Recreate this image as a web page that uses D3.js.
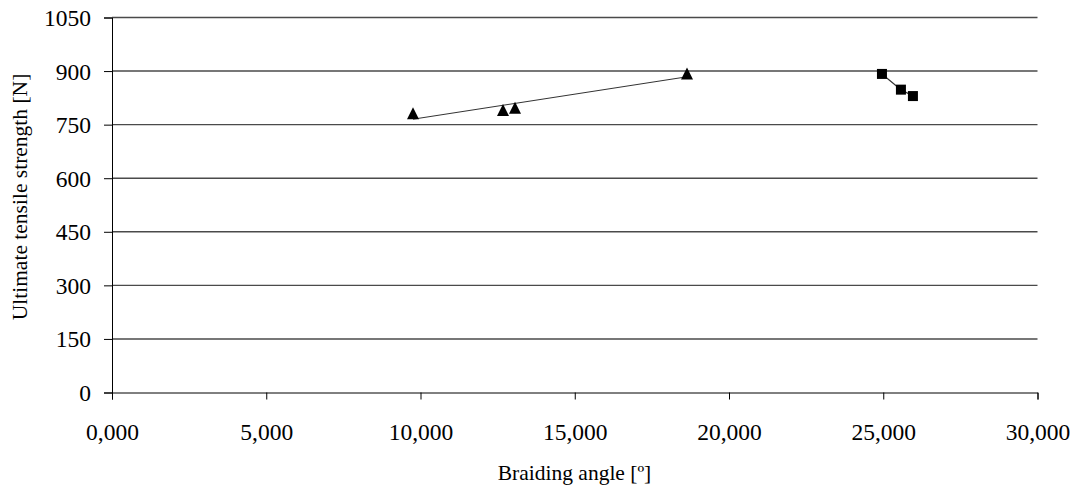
<!DOCTYPE html>
<html><head><meta charset="utf-8">
<script src="https://cdn.jsdelivr.net/npm/d3@7"></script>
<style>
html,body{margin:0;padding:0;background:#fff;}
svg{display:block;font-family:"Liberation Serif","Times New Roman",serif;}
</style></head>
<body><svg id="c" width="1075" height="486"></svg>
<script>
// Data
const triangleX = [9757, 12675, 13063, 18638];
const triangleY = [782, 791, 797, 893];
const squareX = [24958, 25573, 25962];
const squareY = [892, 848, 830];
const xTickValues = [0, 5000, 10000, 15000, 20000, 25000, 30000];
const xTickLabels = ["0,000", "5,000", "10,000", "15,000", "20,000", "25,000", "30,000"];
const yTickValues = [0, 150, 300, 450, 600, 750, 900, 1050];
const yTickLabels = ["0", "150", "300", "450", "600", "750", "900", "1050"];
const xTitle = "Braiding angle [º]";
const yTitle = "Ultimate tensile strength [N]";

const svg = d3.select("#c");
const x = d3.scaleLinear().domain([0, 30000]).range([112, 1037.5]);
const y = d3.scaleLinear().domain([0, 1050]).range([392.5, 17.5]);

// gridlines
svg.append("g").selectAll("line").data(yTickValues.filter(v => v > 0)).join("line")
  .attr("x1", x(0)).attr("x2", x(30000))
  .attr("y1", d => y(d)).attr("y2", d => y(d))
  .attr("stroke", "#4a4a4a").attr("stroke-width", 1.4);

// axes
const xAxis = svg.append("g").attr("transform", `translate(0,${y(0)})`)
  .call(d3.axisBottom(x).tickValues(xTickValues).tickSizeOuter(0).tickSize(7)
    .tickFormat((d, i) => xTickLabels[i]));
const yAxis = svg.append("g").attr("transform", `translate(${x(0)},0)`)
  .call(d3.axisLeft(y).tickValues(yTickValues).tickSizeOuter(0).tickSize(8).tickPadding(13)
    .tickFormat((d, i) => yTickLabels[i]));
[xAxis, yAxis].forEach(g => {
  g.attr("font-family", null).attr("font-size", null);
  g.select(".domain").attr("stroke", "#000").attr("stroke-width", 1);
  g.selectAll(".tick line").attr("stroke", "#000").attr("stroke-width", 1);
  g.selectAll(".tick text").attr("fill", "#000").style("font-size", "23.5px");
});
yAxis.selectAll(".tick text").attr("dy", "0.34em");
xAxis.selectAll(".tick text").attr("y", 47).attr("dy", "0");

// trend line (least-squares fit of triangle series)
const n = triangleX.length;
const mx = d3.mean(triangleX), my = d3.mean(triangleY);
let sxy = 0, sxx = 0;
for (let i = 0; i < n; i++) { sxy += (triangleX[i]-mx)*(triangleY[i]-my); sxx += (triangleX[i]-mx)**2; }
const slope = sxy / sxx, icpt = my - slope * mx;
const x0 = d3.min(triangleX), x1 = d3.max(triangleX);
svg.append("line")
  .attr("x1", x(x0)).attr("y1", y(icpt + slope * x0))
  .attr("x2", x(x1)).attr("y2", y(icpt + slope * x1))
  .attr("stroke", "#333").attr("stroke-width", 1);

// square series connecting line
const sq = squareX.map((v, i) => [v, squareY[i]]);
svg.append("path").datum(sq)
  .attr("d", d3.line().x(d => x(d[0])).y(d => y(d[1])))
  .attr("fill", "none").attr("stroke", "#333").attr("stroke-width", 1.2);

// triangle markers
const tri = triangleX.map((v, i) => [v, triangleY[i]]);
svg.append("g").selectAll("path").data(tri).join("path")
  .attr("d", d => {
    const cx = x(d[0]), cy = y(d[1]);
    return `M${cx},${cy-6}L${cx+6},${cy+6}L${cx-6},${cy+6}Z`;
  })
  .attr("fill", "#000");

// square markers
svg.append("g").selectAll("rect").data(sq).join("rect")
  .attr("x", d => x(d[0]) - 5).attr("y", d => y(d[1]) - 5)
  .attr("width", 10).attr("height", 10).attr("fill", "#000");

// titles
svg.append("text").attr("x", 574.5).attr("y", 480).attr("text-anchor", "middle")
  .style("font-size", "21.5px").attr("fill", "#000").text(xTitle);
svg.append("text").attr("transform", "translate(27,197) rotate(-90)").attr("text-anchor", "middle")
  .style("font-size", "21.5px").attr("fill", "#000").text(yTitle);
</script></body></html>
